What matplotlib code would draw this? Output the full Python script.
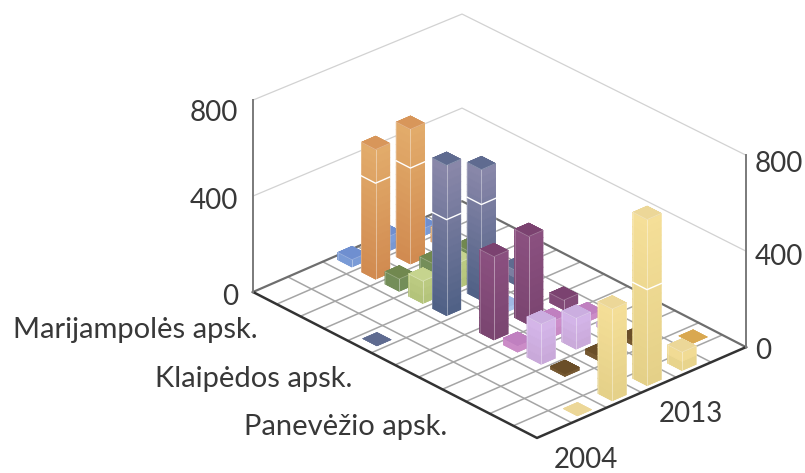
#!/usr/bin/env python
import matplotlib
matplotlib.use("Agg")
import matplotlib.colors as mcolors
import matplotlib.pyplot as plt
import numpy as np
from mpl_toolkits.mplot3d import proj3d

nan = np.nan

# rows run from the left corner to the front corner, columns from front to right
row_labels = ["Marijampolės apsk.", "", "", "", "Klaipėdos apsk.", "", "", "", "Panevėžio apsk.", "", "", ""]
col_labels = ["2004", "", "", "2013", "", ""]
z_ticks = [0, 400, 800]

row_00 = [nan, nan, 30, 60, 30, nan]
row_01 = [nan, nan, 540, 561, 60, nan]
row_02 = [nan, nan, 51, 50, 40, nan]
row_03 = [nan, nan, 93, 105, nan, nan]
row_04 = [0, nan, 626, 545, 60, nan]
row_05 = [nan, nan, nan, 20, nan, nan]
row_06 = [nan, nan, 347, 368, 39, nan]
row_07 = [nan, nan, 28, 64, 25, nan]
row_08 = [nan, nan, 167, 128, 18, nan]
row_09 = [nan, nan, 12, 20, 20, nan]
row_10 = [nan, nan, nan, nan, nan, 0]
row_11 = [nan, 0, 382, 692, 76, nan]
values = [row_00, row_01, row_02, row_03, row_04, row_05,
          row_06, row_07, row_08, row_09, row_10, row_11]

color_top = ["#7f9fdc", "#e3ac6b", "#7b9560", "#bdcc82", "#8a88aa", "#aec6ee",
             "#8b5080", "#cf90cc", "#d5b6ea", "#7a5c32", "#dcae58", "#f5df98"]
color_bottom = ["#7596d0", "#d08a50", "#6d8752", "#b2c27a", "#4f6085", "#a6bfe8",
                "#7a4570", "#c688c2", "#c8a8d8", "#6f5530", "#d6a64e", "#e4d088"]
color_cap = ["#6f8fd0", "#d8965a", "#71884f", "#c6d48e", "#5f6b90", "#a0b8e4",
             "#7b4270", "#c080c0", "#cbaee0", "#6a4e28", "#d9a850", "#ecd798"]

W, H = 805, 473
LEFT = (253, 292)
RIGHT = (746, 347)
BAR_X = 0.60
BAR_Y = 0.41
TEXT_COLOR = "#383838"


def to_px(ax, x, y, z):
    px, py, _ = proj3d.proj_transform(x, y, z, ax.get_proj())
    return ax.transData.transform((px, py))


def place_axes(fig, ax):
    size = 600
    ax.set_position([0.1, 0.1, size / W, size / H])
    fig.canvas.draw()
    a = to_px(ax, 0, 0, 0)
    b = to_px(ax, 12, 6, 0)
    size = size * (RIGHT[0] - LEFT[0]) / (b[0] - a[0])
    ax.set_position([0.1, 0.1, size / W, size / H])
    fig.canvas.draw()
    a = to_px(ax, 0, 0, 0)
    ax.set_position([0.1 + (LEFT[0] - a[0]) / W, 0.1 + (H - LEFT[1] - a[1]) / H, size / W, size / H])
    fig.canvas.draw()


def main() -> None:
    plt.rcParams["font.family"] = ["Lato", "DejaVu Sans"]
    fig = plt.figure(figsize=(W / 100, H / 100), dpi=100)
    ax = fig.add_axes([0, 0, 1, 1], projection="3d", proj_type="ortho")
    ax.computed_zorder = False
    ax.set_axis_off()
    ax.view_init(elev=28.2, azim=-42.6)
    ax.set_box_aspect((419.6, 284.0, 217.8))
    ax.set_xlim(0, len(row_labels))
    ax.set_ylim(0, len(col_labels))
    ax.set_zlim(0, 800)
    place_axes(fig, ax)

    nr, nc = len(row_labels), len(col_labels)
    # walls, the back corner sits a little lower in the reference
    for z, drop in zip(z_ticks[1:], [12, 20]):
        ax.plot([0, 0, nr], [0, nc, nc], [z, z - drop, z], color="#d2d2d2", lw=0.9, zorder=1)
    # floor grid
    for r in range(1, nr):
        ax.plot([r, r], [0, nc], [0, 0], color="#a5a5a5", lw=1.1, zorder=2)
    for c in range(1, nc):
        ax.plot([0, nr], [c, c], [0, 0], color="#a5a5a5", lw=1.1, zorder=2)
    ax.plot([0, 0, nr], [0, nc, nc], [0, 0, 0], color="#6e6e6e", lw=1.6, zorder=3)
    ax.plot([0, nr, nr], [0, 0, nc], [0, 0, 0], color="#333333", lw=1.8, zorder=3)
    ax.plot([0, 0], [0, 0], [0, 800], color="#7a7a7a", lw=1.4, zorder=3)
    ax.plot([nr, nr], [nc, nc], [0, 800], color="#7a7a7a", lw=1.4, zorder=3)

    # bars, back to front
    order = 10
    for r in range(nr):
        for c in range(nc - 1, -1, -1):
            v = values[r][c]
            if np.isnan(v):
                continue
            x0 = r + 0.5 - BAR_X / 2
            y0 = c + 0.5 - BAR_Y / 2
            x1, y1 = x0 + BAR_X, y0 + BAR_Y
            top = np.array(mcolors.to_rgb(color_top[r]))
            bottom = np.array(mcolors.to_rgb(color_bottom[r]))
            n_strip = max(1, int(v / 30))
            edges = np.linspace(0, v, n_strip + 1)
            if v > 0:
                for i in range(n_strip):
                    col = mcolors.to_hex(bottom + (top - bottom) * (i + 0.5) / n_strip)
                    ax.bar3d(x0, y0, edges[i], BAR_X, BAR_Y, edges[i + 1] - edges[i],
                             color=col, edgecolor=col, linewidth=0.4, shade=False, zorder=order)
                    order += 1
            ax.bar3d(x0, y0, v, BAR_X, BAR_Y, 0, color=color_cap[r], edgecolor=color_cap[r],
                     linewidth=0.3, shade=False, zorder=order)
            order += 1
            if v >= 30:
                ax.plot([x1, x1], [y0, y0], [0, v], color="white", alpha=0.4, lw=0.7, zorder=order)
                ax.plot([x0, x0], [y0, y0], [0, v], color="white", alpha=0.2, lw=0.7, zorder=order)
                ax.plot([x1, x1], [y1, y1], [0, v], color="white", alpha=0.2, lw=0.7, zorder=order)
                ax.plot([x0, x1, x1], [y0, y0, y1], [v, v, v], color="white", alpha=0.3, lw=0.6, zorder=order)
            if v > 400:
                ax.plot([x0, x1, x1], [y0, y0, y1], [400, 400, 400], color="white", lw=1.0, zorder=order)
            order += 1

    # text, baselines measured from the axis points
    kw = dict(color=TEXT_COLOR, va="baseline")
    for z, d_left, d_right in zip(z_ticks, [13, 13, 21], [12, 14, 17]):
        _, yl = to_px(ax, 0, 0, z)
        fig.text(238 / W, (yl - d_left) / H, str(z), ha="right", fontsize=20, **kw)
        _, yr = to_px(ax, nr, nc, z)
        fig.text(755 / W, (yr - d_right) / H, str(z), ha="left", fontsize=20, **kw)
    for r, lab in enumerate(row_labels):
        if lab:
            px, py = to_px(ax, r + 0.5, 0, 0)
            fig.text((px - 7) / W, (py - 40) / H, lab, ha="right", fontsize=21, **kw)
    for c, lab in enumerate(col_labels):
        if lab:
            px, py = to_px(ax, nr, c + 0.5, 0)
            fig.text((px + 32) / W, (py - 37.5) / H, lab, ha="center", fontsize=20, **kw)

    fig.savefig("out.png", dpi=100)
    plt.close(fig)


if __name__ == "__main__":
    main()
